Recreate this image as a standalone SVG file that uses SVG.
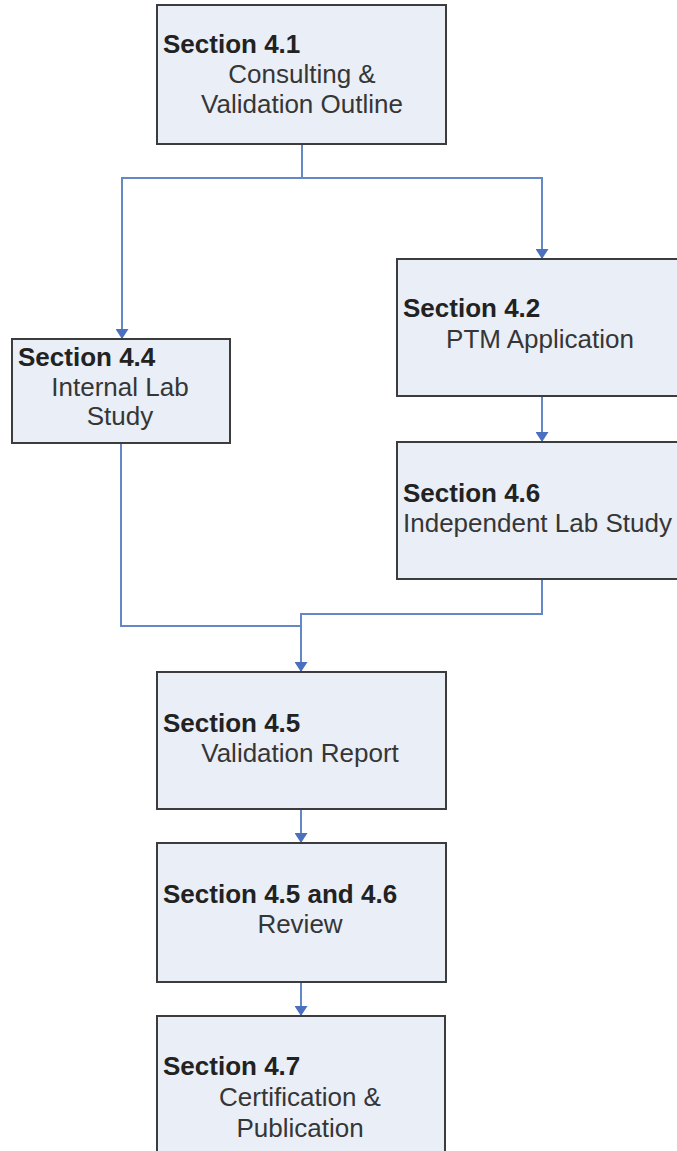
<svg xmlns="http://www.w3.org/2000/svg" width="677" height="1151" viewBox="0 0 677 1151">
<defs>
<style>
.box{fill:#e9eef7;stroke:#3c3c3c;stroke-width:2}
.t{font-family:"Liberation Sans",Arial,sans-serif;font-size:26px;fill:#363636}
.b{font-weight:bold;fill:#222}
.m{text-anchor:middle}
.c{fill:none;stroke:#6487c6;stroke-width:2}
</style>
<marker id="ah" viewBox="0 0 10 13" refX="10" refY="6.5" markerWidth="10" markerHeight="13" markerUnits="userSpaceOnUse" orient="auto">
<path d="M0,0 L10,6.5 L0,13 Z" fill="#4a70bf"/>
</marker>
</defs>
<rect width="677" height="1151" fill="#fff"/>
<g id="connectors">
<path class="c" d="M302,144 V178"/>
<path class="c" d="M302,178 H122 V339" marker-end="url(#ah)"/>
<path class="c" d="M302,178 H542 V259" marker-end="url(#ah)"/>
<path class="c" d="M542,396 V442" marker-end="url(#ah)"/>
<path class="c" d="M121,443 V626 H301"/>
<path class="c" d="M542,579 V614 H301 V672" marker-end="url(#ah)"/>
<path class="c" d="M301,809 V843" marker-end="url(#ah)"/>
<path class="c" d="M301,982 V1016" marker-end="url(#ah)"/>
</g>
<g id="n41">
<rect class="box" x="157" y="5" width="289" height="139"/>
<text class="t b" x="163" y="53">Section 4.1</text>
<text class="t m" x="302" y="83">Consulting &amp;</text>
<text class="t m" x="302" y="113">Validation Outline</text>
</g>
<g id="n42">
<rect class="box" x="397" y="259" width="290" height="137"/>
<text class="t b" x="403" y="317">Section 4.2</text>
<text class="t m" x="540" y="348">PTM Application</text>
</g>
<g id="n44">
<rect class="box" x="12" y="339" width="218" height="104"/>
<text class="t b" x="18" y="366">Section 4.4</text>
<text class="t m" x="120" y="396">Internal Lab</text>
<text class="t m" x="120" y="425">Study</text>
</g>
<g id="n46">
<rect class="box" x="397" y="442" width="290" height="137"/>
<text class="t b" x="403" y="502">Section 4.6</text>
<text class="t" x="403" y="532">Independent Lab Study</text>
</g>
<g id="n45">
<rect class="box" x="157" y="672" width="289" height="137"/>
<text class="t b" x="163" y="732">Section 4.5</text>
<text class="t m" x="300" y="762">Validation Report</text>
</g>
<g id="nrev">
<rect class="box" x="157" y="843" width="289" height="139"/>
<text class="t b" x="163" y="903">Section 4.5 and 4.6</text>
<text class="t m" x="300" y="933">Review</text>
</g>
<g id="n47">
<rect class="box" x="157" y="1016" width="288" height="160"/>
<text class="t b" x="163" y="1075">Section 4.7</text>
<text class="t m" x="300" y="1106">Certification &amp;</text>
<text class="t m" x="300" y="1137">Publication</text>
</g>
</svg>
